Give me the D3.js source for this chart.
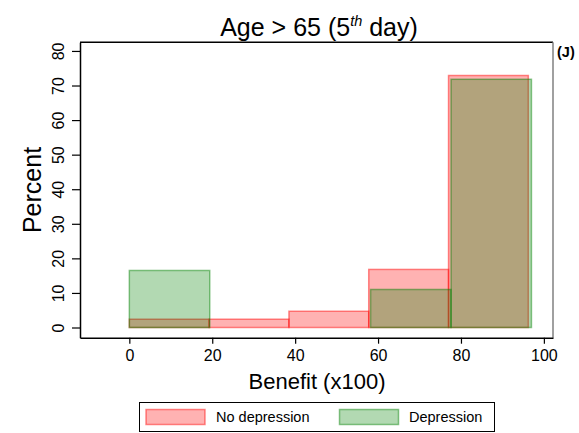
<!DOCTYPE html>
<html>
<head>
<meta charset="utf-8">
<script src="https://cdn.jsdelivr.net/npm/d3@7"></script>
<style>
  html, body { margin: 0; padding: 0; background: #fff; }
  svg { display: block; font-family: "Liberation Sans", Arial, sans-serif; }
</style>
</head>
<body>
<svg id="chart" width="579" height="433"></svg>
<script>
// Histogram bin edges (benefit, x100) for each group
const noDepEdges = [0, 19.25, 38.5, 57.75, 77, 96.25];
const depEdges = [0, 19.4, 38.8, 58.2, 77.6, 97];
// Percent of patients in each bin
const noDepPct = [2.4, 2.4, 4.7, 16.8, 72.9];
const depPct = [16.5, 0, 0, 11.0, 71.8];
// Axis ticks
const xTicks = [0, 20, 40, 60, 80, 100];
const yTicks = [0, 10, 20, 30, 40, 50, 60, 70, 80];
const seriesNames = ["No depression", "Depression"];

const svg = d3.select("#chart");
const plotLeft = 80, plotRight = 553, plotTop = 42.3, plotBottom = 337.7;

const x = d3.scaleLinear().domain([-11.9, 102.2]).range([plotLeft, plotRight]);
const y = d3.scaleLinear().domain([-2.95, 82.5]).range([plotBottom, plotTop]);

function bins(edges, pct) {
  return pct.map((p, i) => ({ x0: edges[i], x1: edges[i + 1], p }));
}

const groups = [
  { name: seriesNames[0], data: bins(noDepEdges, noDepPct), fill: "rgba(255,0,0,0.3)", stroke: "rgba(255,0,0,0.45)" },
  { name: seriesNames[1], data: bins(depEdges, depPct), fill: "rgba(0,128,0,0.3)", stroke: "rgba(0,128,0,0.45)" }
];

groups.forEach(g => {
  svg.append("g").selectAll("rect")
    .data(g.data.filter(d => d.p > 0))
    .join("rect")
    .attr("x", d => x(d.x0))
    .attr("width", d => x(d.x1) - x(d.x0))
    .attr("y", d => y(d.p))
    .attr("height", d => y(0) - y(d.p))
    .attr("fill", g.fill)
    .attr("stroke", g.stroke)
    .attr("stroke-width", 1.5);
});

// Frame: top, left, bottom in black; right side grey
svg.append("line").attr("x1", plotLeft).attr("x2", plotRight).attr("y1", plotTop).attr("y2", plotTop)
  .attr("stroke", "#000").attr("stroke-width", 1.5);
svg.append("line").attr("x1", plotRight).attr("x2", plotRight).attr("y1", plotTop).attr("y2", plotBottom)
  .attr("stroke", "#808080").attr("stroke-width", 1.5);

// X axis
const xAxis = svg.append("g")
  .attr("transform", `translate(0,${plotBottom})`)
  .call(d3.axisBottom(x).tickValues(xTicks).tickSize(6).tickPadding(6).tickSizeOuter(0));
xAxis.select(".domain").attr("stroke-width", 1.5);
xAxis.selectAll(".tick line").attr("stroke-width", 1.2);
xAxis.selectAll(".tick text").attr("font-size", 16).attr("fill", "#000")
  .attr("font-family", "Liberation Sans, Arial, sans-serif");

// Y axis with rotated labels
const yAxis = svg.append("g")
  .attr("transform", `translate(${plotLeft},0)`)
  .call(d3.axisLeft(y).tickValues(yTicks).tickSize(8).tickSizeOuter(0));
yAxis.select(".domain").attr("stroke-width", 1.5);
yAxis.selectAll(".tick line").attr("stroke-width", 1.2);
yAxis.selectAll(".tick text")
  .attr("font-size", 16).attr("fill", "#000")
  .attr("font-family", "Liberation Sans, Arial, sans-serif")
  .attr("x", null).attr("dy", null)
  .attr("text-anchor", "middle")
  .attr("transform", "translate(-16,0) rotate(-90)");

// Title
const title = svg.append("text")
  .attr("x", 319).attr("y", 36)
  .attr("text-anchor", "middle")
  .attr("font-size", 25);
title.append("tspan").text("Age > 65 (5");
title.append("tspan").text("th").attr("font-size", 14.5).attr("font-style", "italic").attr("dy", -10);
title.append("tspan").text(" day)").attr("dy", 10);

// Panel tag
svg.append("text").attr("x", 557).attr("y", 57)
  .attr("font-size", 14.5).attr("font-weight", "bold").text("(J)");

// Axis titles
svg.append("text").attr("x", 317).attr("y", 389)
  .attr("text-anchor", "middle").attr("font-size", 22).text("Benefit (x100)");
svg.append("text")
  .attr("transform", "translate(41,190) rotate(-90)")
  .attr("text-anchor", "middle").attr("font-size", 25).text("Percent");

// Legend
const lg = svg.append("g");
lg.append("rect").attr("x", 139.5).attr("y", 402.5).attr("width", 355).attr("height", 29)
  .attr("fill", "#fff").attr("stroke", "#000").attr("stroke-width", 1);
const legendItems = [
  { g: groups[0], sx: 146, tx: 216 },
  { g: groups[1], sx: 339.5, tx: 409 }
];
legendItems.forEach(it => {
  lg.append("rect").attr("x", it.sx).attr("y", 409.5).attr("width", 59).attr("height", 15)
    .attr("fill", it.g.fill).attr("stroke", it.g.stroke).attr("stroke-width", 1.5);
  lg.append("text").attr("x", it.tx).attr("y", 422).attr("font-size", 14.5).text(it.g.name);
});
</script>
</body>
</html>
